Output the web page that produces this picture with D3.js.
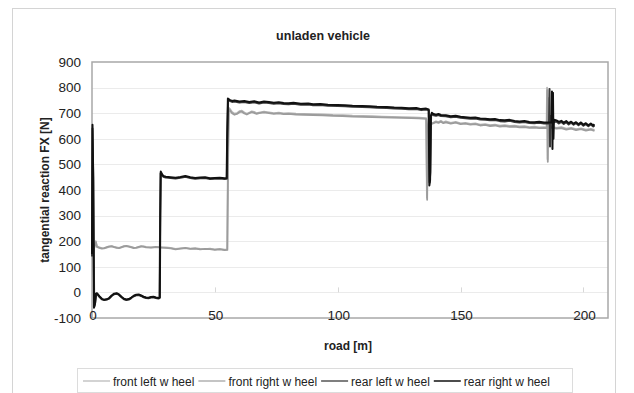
<!DOCTYPE html>
<html>
<head>
<script src="https://d3js.org/d3.v7.min.js"></script>
<style>
  body { margin: 0; background: #fff; }
  text { font-family: "Liberation Sans", Arial, sans-serif; fill: #222; }
</style>
</head>
<body>
<svg width="634" height="393"></svg>
<script>
"use strict";

// road [m], force [N]
var frontLeft = [[0,150],[0.3,195],[0.6,160],[1,178],[1.5,200],[2,180],[3,176],[4,173],[5,172],[6,175],[7,178],[8,180],[9,178],[10,176],[11,174],[12,176],[13,179],[14,181],[15,180],[16,178],[17,175],[18,174],[19,176],[20,179],[21,180],[22,178],[24,176],[26,177],[28,175],[30,176],[32,174],[34,170],[36,172],[38,173],[40,171],[42,173],[44,170],[46,169],[48,171],[50,168],[52,170],[54,167],[55,168],[55.3,500],[55.6,722],[56,718],[57,705],[58,698],[59,700],[60,708],[61,710],[62,703],[63,698],[64,702],[65,707],[66,705],[67,700],[68,702],[70,706],[72,703],[74,700],[76,702],[78,699],[80,700],[83,698],[86,697],[90,696],[94,695],[98,693],[102,692],[106,690],[110,689],[114,688],[118,687],[122,686],[126,685],[130,684],[133,683],[136,681],[136.3,370],[136.6,640],[137,675],[138,660],[139,663],[140,668],[141,665],[142,670],[143,664],[144,668],[146,662],[148,666],[150,660],[152,662],[154,658],[156,660],[158,655],[160,657],[162,653],[164,655],[166,651],[168,653],[170,650],[172,651],[174,648],[176,649],[178,646],[180,647],[182,645],[184,646],[185,645],[185.2,800],[185.4,520],[185.6,760],[185.8,640],[187,648],[189,643],[191,646],[193,640],[195,643],[197,638],[199,641],[201,636],[203,639],[204.5,635]];

var frontRight = [[0,145],[0.3,190],[0.7,165],[1.1,182],[1.6,196],[2,178],[3,174],[4,171],[5,173],[6,177],[7,180],[8,181],[9,177],[10,174],[11,173],[12,177],[13,181],[14,182],[15,179],[16,176],[17,173],[18,175],[19,178],[20,181],[21,179],[22,176],[24,175],[26,178],[28,176],[30,174],[32,172],[34,168],[36,171],[38,174],[40,170],[42,171],[44,168],[46,170],[48,169],[50,166],[52,168],[54,165],[55.1,166],[55.4,520],[55.7,716],[56,712],[57,700],[58,694],[59,697],[60,704],[61,706],[62,699],[63,695],[64,700],[65,704],[66,701],[67,697],[68,700],[70,703],[72,700],[74,697],[76,699],[78,696],[80,697],[83,695],[86,694],[90,693],[94,692],[98,690],[102,689],[106,687],[110,686],[114,685],[118,684],[122,683],[126,682],[130,681],[133,680],[136,678],[136.4,362],[136.7,620],[137.1,670],[138,657],[139,661],[140,665],[141,662],[142,667],[143,661],[144,664],[146,659],[148,663],[150,657],[152,659],[154,655],[156,657],[158,652],[160,654],[162,650],[164,652],[166,648],[168,650],[170,647],[172,648],[174,645],[176,646],[178,643],[180,644],[182,642],[184,643],[185.1,642],[185.3,790],[185.5,510],[185.7,700],[186,638],[187,644],[189,640],[191,642],[193,636],[195,640],[197,634],[199,638],[201,632],[203,636],[204.5,631]];

var rearLeft = [[0,140],[0.2,640],[0.5,440],[0.9,-55],[1.3,-40],[1.7,-8],[2,-6],[3,-17],[4,-27],[5,-30],[6,-28],[7,-24],[8,-14],[9,-7],[10,-5],[11,-10],[12,-19],[13,-27],[14,-30],[15,-28],[16,-22],[17,-15],[18,-11],[19,-10],[20,-14],[21,-19],[22,-22],[23,-23],[24,-20],[25,-19],[26,-22],[27,-24],[27.5,-22],[27.7,250],[27.9,465],[28.5,458],[29,452],[30,449],[32,447],[34,445],[36,448],[38,452],[40,447],[42,444],[44,446],[46,447],[48,443],[50,444],[52,445],[54,443],[54.9,444],[55.1,620],[55.4,750],[56,748],[57,744],[58,746],[60,742],[62,744],[64,740],[66,743],[68,738],[70,742],[72,740],[74,737],[76,739],[78,736],[80,735],[82,737],[85,733],[88,734],[90,731],[93,732],[96,729],[100,728],[103,727],[106,725],[110,724],[113,723],[116,721],[120,720],[123,718],[126,717],[129,715],[132,716],[134,712],[136,714],[137.1,711],[137.4,430],[137.7,470],[138,688],[138.4,696],[139,692],[140,690],[141,693],[142,689],[144,688],[146,684],[148,686],[150,682],[152,680],[154,678],[156,679],[158,675],[160,674],[162,672],[164,673],[166,669],[168,668],[170,670],[172,666],[174,664],[176,666],[178,662],[180,661],[182,663],[184,660],[186,661],[186.2,795],[186.4,570],[186.6,690],[187.5,668],[188,664],[189,668],[190,660],[191,666],[192,658],[193,665],[194,656],[195,663],[196,655],[197,661],[198,653],[199,660],[200,651],[201,657],[202,649],[203,656],[204,648],[204.5,652]];

var rearRight = [[0,150],[0.2,655],[0.5,450],[0.8,-60],[1.2,-45],[1.6,-5],[2,-3],[3,-15],[4,-25],[5,-29],[6,-27],[7,-22],[8,-12],[9,-5],[10,-3],[11,-8],[12,-17],[13,-25],[14,-28],[15,-26],[16,-20],[17,-13],[18,-9],[19,-8],[20,-12],[21,-17],[22,-20],[23,-21],[24,-18],[25,-17],[26,-20],[27,-22],[27.6,-20],[27.8,300],[28,472],[28.5,462],[29,455],[30,452],[32,450],[34,448],[36,451],[38,455],[40,450],[42,447],[44,449],[46,450],[48,446],[50,447],[52,448],[54,446],[54.8,447],[55,600],[55.3,757],[56,752],[57,748],[58,750],[60,746],[62,748],[64,744],[66,747],[68,742],[70,746],[72,744],[74,741],[76,743],[78,740],[80,739],[82,741],[85,737],[88,738],[90,735],[93,736],[96,733],[100,732],[103,731],[106,729],[110,728],[113,727],[116,725],[120,724],[123,722],[126,721],[129,719],[132,720],[134,716],[136,718],[137,715],[137.3,418],[137.6,440],[137.9,690],[138.3,702],[139,697],[140,694],[141,697],[142,693],[144,692],[146,688],[148,690],[150,686],[152,684],[154,682],[156,683],[158,679],[160,678],[162,676],[164,677],[166,673],[168,672],[170,674],[172,670],[174,668],[176,670],[178,666],[180,665],[182,667],[184,664],[187,665],[187.2,785],[187.4,560],[187.6,780],[187.8,600],[188,675],[189,672],[190,666],[191,670],[192,663],[193,669],[194,661],[195,667],[196,659],[197,665],[198,657],[199,664],[200,655],[201,661],[202,653],[203,660],[204,652],[204.5,657]];

var seriesNames = ["front left w heel", "front right w heel", "rear left w heel", "rear right w heel"];
var seriesData = [frontLeft, frontRight, rearLeft, rearRight];
var seriesColors = ["#b4b4b4", "#9c9c9c", "#3a3a3a", "#111"];
var legendColors = ["#c4c4c4", "#b0b0b0", "#555", "#111"];

var xTicks = [0, 50, 100, 150, 200];
var yTicks = [-100, 0, 100, 200, 300, 400, 500, 600, 700, 800, 900];

var svg = d3.select("svg");

var x = d3.scaleLinear().domain([0, 210]).range([92, 608]),
    y = d3.scaleLinear().domain([-100, 900]).range([318, 62]);

// outer frame
svg.append("rect").attr("x", 12.5).attr("y", 8.5).attr("width", 603).attr("height", 400)
    .attr("fill", "none").attr("stroke", "#d4d4d4");

// title
svg.append("text").attr("x", 323).attr("y", 40).attr("text-anchor", "middle")
    .attr("font-size", 12.5).attr("font-weight", "bold").text("unladen vehicle");

// gridlines
svg.append("g").selectAll("line").data(yTicks.slice(1, -1)).enter().append("line")
    .attr("x1", x(0)).attr("x2", x(210))
    .attr("y1", d => Math.round(y(d)) + 0.5).attr("y2", d => Math.round(y(d)) + 0.5)
    .attr("stroke", "#ebebeb");

// small ticks on the zero line
svg.append("g").selectAll("line").data(xTicks.slice(1)).enter().append("line")
    .attr("x1", d => Math.round(x(d)) + 0.5).attr("x2", d => Math.round(x(d)) + 0.5)
    .attr("y1", y(0)).attr("y2", y(0) - 5)
    .attr("stroke", "#d8d8d8");

// y axis labels
svg.append("g").selectAll("text").data(yTicks).enter().append("text")
    .attr("x", 81).attr("y", d => y(d)).attr("dy", "0.36em")
    .attr("text-anchor", "end").attr("font-size", 13.5)
    .text(d => d);

// plot frame
svg.append("rect").attr("x", x(0)).attr("y", y(900)).attr("width", x(210) - x(0)).attr("height", y(-100) - y(900))
    .attr("fill", "none").attr("stroke", "#a8a8a8").attr("stroke-width", 1.5);

// series
var line = d3.line().x(d => x(d[0])).y(d => y(d[1]));
svg.append("g").selectAll("path").data(seriesData).enter().append("path")
    .attr("d", line)
    .attr("fill", "none")
    .attr("stroke", (d, i) => seriesColors[i])
    .attr("stroke-width", (d, i) => i < 2 ? 1.8 : 2)
    .attr("stroke-linejoin", "round");

// x axis labels
svg.append("g").selectAll("text").data(xTicks).enter().append("text")
    .attr("x", d => x(d) + 1).attr("y", 320)
    .attr("text-anchor", "middle").attr("font-size", 13.5)
    .text(d => d);

// axis titles
svg.append("text").attr("transform", "translate(49," + y(400) + ") rotate(-90)")
    .attr("text-anchor", "middle").attr("font-size", 12).attr("font-weight", "bold")
    .text("tangential reaction FX [N]");
svg.append("text").attr("x", 348).attr("y", 350).attr("text-anchor", "middle")
    .attr("font-size", 12).attr("font-weight", "bold").text("road [m]");

// legend
var legend = svg.append("g");
legend.append("rect").attr("x", 77.5).attr("y", 368.5).attr("width", 495).attr("height", 24)
    .attr("fill", "#fff").attr("stroke", "#dcdcdc");
var lx = 83;
seriesNames.forEach(function(name, i) {
    legend.append("line").attr("x1", lx).attr("x2", lx + 27).attr("y1", 381).attr("y2", 381)
        .attr("stroke", legendColors[i]).attr("stroke-width", 1.5);
    var t = legend.append("text").attr("x", lx + 30).attr("y", 385.5).attr("font-size", 12).text(name);
    lx += 30 + t.node().getComputedTextLength() + 4;
});
</script>
</body>
</html>
